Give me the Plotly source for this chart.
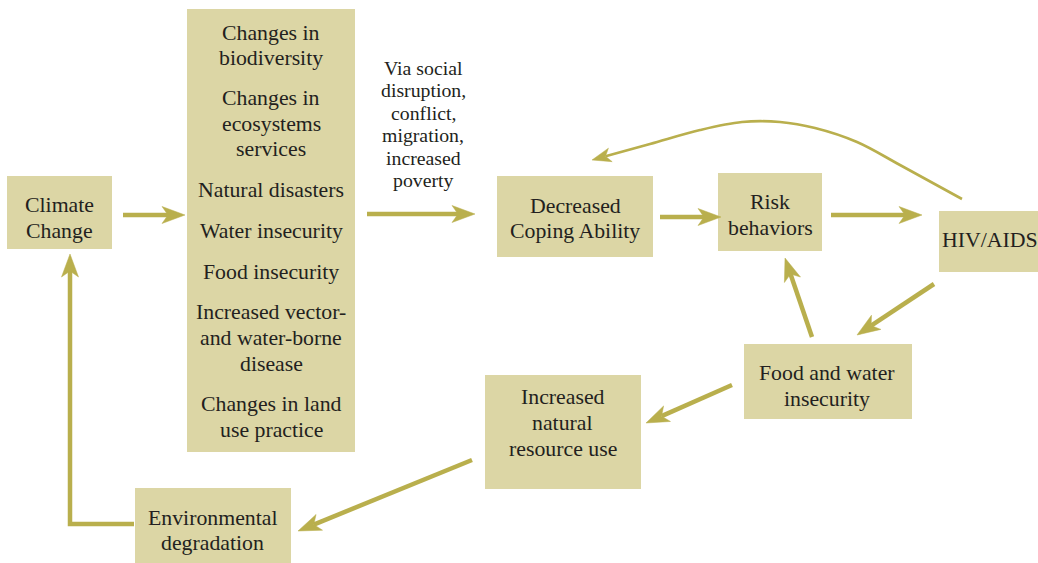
import math
import plotly.graph_objects as go

W, H = 1038, 563
BOX_FILL = "#DCD6A5"
ARROW = "#B9AF4D"
TEXT = "#231F20"
FONT = "Liberation Serif"

# Boxes
box_names = ["climate", "impacts", "coping", "risk", "hiv", "food", "resource", "envdeg"]
box_x0 = [7, 187, 497, 718, 939, 744, 485, 135]
box_y0 = [176, 9, 176, 173, 211, 344, 375, 488]
box_x1 = [112, 355, 653, 822, 1038, 912, 641, 291]
box_y1 = [249, 452, 257, 251, 272, 419, 489, 563]

# Text blocks: lines, center x, center y
text_blocks = [
    (["Climate", "Change"], 59, 218),
    (["Decreased", "Coping Ability"], 575, 218.5),
    (["Risk", "behaviors"], 770, 215),
    (["HIV/AIDS"], 990, 240),
    (["Food and water", "insecurity"], 827, 386),
    (["Increased", "natural", "resource use"], 562.5, 423),
    (["Environmental", "degradation"], 212.5, 530.5),
    (["Changes in", "biodiversity"], 271, 45.5),
    (["Changes in", "ecosystems", "services"], 271, 123.5),
    (["Natural disasters"], 271, 190),
    (["Water insecurity"], 271, 231),
    (["Food insecurity"], 271, 272),
    (["Increased vector-", "and water-borne", "disease"], 271, 338),
    (["Changes in land", "use practice"], 271, 417),
]
via_lines = ["Via social", "disruption,", "conflict,", "migration,", "increased", "poverty"]
via_center = (423, 124)

# Straight arrows: start (x, y) -> tip (x, y)
arrows = [
    ((123, 215), (185, 215)),
    ((367, 214), (475, 214)),
    ((660, 217), (721, 217)),
    ((831, 215), (922, 215)),
    ((934, 284), (857, 335)),
    ((812, 337), (785, 258)),
    ((732, 385), (646, 423)),
    ((472, 460), (298, 531)),
]
# Feedback: env degradation -> climate change (elbow)
elbow_pts = [(134, 524), (70, 524), (70, 254)]
# Curved arrow HIV/AIDS -> Decreased coping
curve_pts = [(962, 199), (900, 165), (857, 142), (815, 128), (780, 122), (742, 122), (700, 130), (650, 144), (592, 160)]

fig = go.Figure()
shapes = []
annotations = []

for x0, y0, x1, y1 in zip(box_x0, box_y0, box_x1, box_y1):
    shapes.append(dict(type="rect", x0=x0, y0=y0, x1=x1, y1=y1, xref="x", yref="y",
                       fillcolor=BOX_FILL, line=dict(width=0), layer="below"))


def head(tip, prev, L=23, Wd=8.5, notch=6):
    tx, ty = tip
    dx, dy = tx - prev[0], ty - prev[1]
    d = math.hypot(dx, dy)
    ux, uy = dx / d, dy / d
    nx, ny = -uy, ux
    bx, by = tx - L * ux, ty - L * uy
    p1 = (bx + Wd * nx, by + Wd * ny)
    p2 = (tx - (L - notch) * ux, ty - (L - notch) * uy)
    p3 = (bx - Wd * nx, by - Wd * ny)
    path = f"M {tx},{ty} L {p1[0]},{p1[1]} L {p2[0]},{p2[1]} L {p3[0]},{p3[1]} Z"
    shapes.append(dict(type="path", path=path, xref="x", yref="y", fillcolor=ARROW,
                       line=dict(color=ARROW, width=0.5)))
    return p2


for s, t in arrows:
    end = head(t, s)
    shapes.append(dict(type="line", x0=s[0], y0=s[1], x1=end[0], y1=end[1], xref="x", yref="y",
                       line=dict(color=ARROW, width=4.5)))

end = head(elbow_pts[-1], elbow_pts[-2])
ex = [p[0] for p in elbow_pts[:-1]] + [end[0]]
ey = [p[1] for p in elbow_pts[:-1]] + [end[1]]
fig.add_trace(go.Scatter(x=ex, y=ey, mode="lines", line=dict(color=ARROW, width=4.5),
                         hoverinfo="skip", showlegend=False))

cend = head(curve_pts[-1], curve_pts[-3], L=19, Wd=7, notch=5)
cx = [p[0] for p in curve_pts[:-1]] + [cend[0]]
cy = [p[1] for p in curve_pts[:-1]] + [cend[1]]
fig.add_trace(go.Scatter(x=cx, y=cy, mode="lines", line=dict(color=ARROW, width=2.6, shape="spline"),
                         hoverinfo="skip", showlegend=False))

MAIN_SIZE, MAIN_GAP = 21.8, 25.7
VIA_SIZE, VIA_GAP = 19.8, 22.4


def add_block(lines, cx0, cy0, size, gap):
    n = len(lines)
    for i, ln in enumerate(lines):
        y = cy0 + (i - (n - 1) / 2) * gap
        annotations.append(dict(x=cx0, y=y, xref="x", yref="y", text=ln, showarrow=False,
                                xanchor="center", yanchor="middle",
                                font=dict(family=FONT, size=size, color=TEXT)))


for lines, x, y in text_blocks:
    add_block(lines, x, y, MAIN_SIZE, MAIN_GAP)
add_block(via_lines, via_center[0], via_center[1], VIA_SIZE, VIA_GAP)

fig.update_layout(
    width=W, height=H, margin=dict(l=0, r=0, t=0, b=0),
    paper_bgcolor="white", plot_bgcolor="white",
    xaxis=dict(range=[0, W], visible=False, fixedrange=True),
    yaxis=dict(range=[H, 0], visible=False, fixedrange=True),
    shapes=shapes, annotations=annotations, showlegend=False,
)
fig.write_html("out.html", config={"displayModeBar": False},
               post_script="document.body.style.margin='0';document.body.style.overflow='hidden';")
